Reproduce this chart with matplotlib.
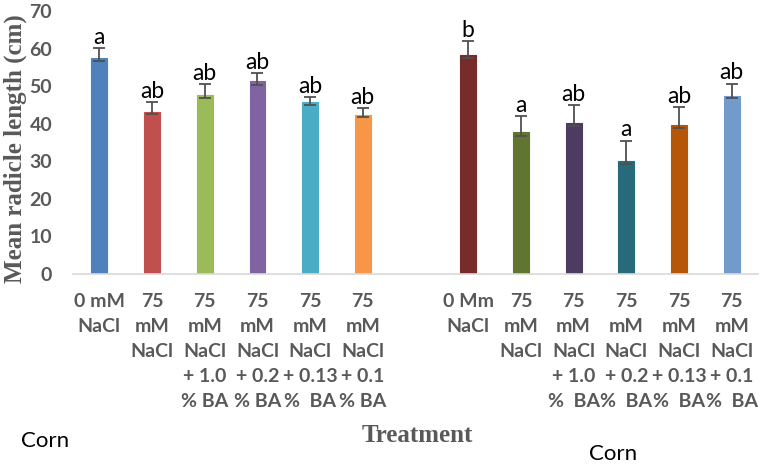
import matplotlib.pyplot as plt
import numpy as np

labels = ['0 mM\nNaCl', '75\nmM\nNaCl', '75\nmM\nNaCl\n+ 1.0\n% BA',
          '75\nmM\nNaCl\n+ 0.2\n% BA', '75\nmM\nNaCl\n+ 0.13\n%  BA',
          '75\nmM\nNaCl\n+ 0.1\n% BA', '',
          '0 Mm\nNaCl', '75\nmM\nNaCl', '75\nmM\nNaCl\n+ 1.0\n%  BA',
          '75\nmM\nNaCl\n+ 0.2\n%  BA', '75\nmM\nNaCl\n+ 0.13\n%  BA',
          '75\nmM\nNaCl\n+ 0.1\n%  BA']
means = [57.4, 43.2, 47.6, 51.4, 45.8, 42.4, np.nan,
         58.2, 37.7, 40.3, 30.1, 39.7, 47.4]
err_up = [2.8, 2.5, 2.9, 2.1, 1.3, 1.8, np.nan,
          3.8, 4.3, 4.6, 5.4, 4.8, 3.3]
err_lo = [0.8, 0.6, 0.8, 1.1, 0.9, 0.7, np.nan,
          0.7, 1.0, 0.9, 0.8, 0.8, 0.4]
letters = ['a', 'ab', 'ab', 'ab', 'ab', 'ab', '',
           'b', 'a', 'ab', 'a', 'ab', 'ab']
colors = ['#4F81BD', '#C0504D', '#9BBB59', '#8064A2', '#4BACC6', '#F79646', 'white',
          '#772C2A', '#5F7530', '#4D3B62', '#276A7C', '#B65708', '#729ACA']

gray = '#595959'
fig = plt.figure(figsize=(7.65, 4.66), dpi=100)
ax = fig.add_axes([0.0954, 0.412, 0.8956, 0.564])

x = np.arange(len(labels))
ax.bar(x, means, width=0.3, color=colors, edgecolor=colors, linewidth=0.8, zorder=2)
ax.errorbar(x, means, yerr=[err_lo, err_up], fmt='none', ecolor='#505050',
            elinewidth=1.3, capsize=4, capthick=1.3, zorder=3)
for xi, m, e, t in zip(x, means, err_up, letters):
    if t:
        ax.text(xi, m + e + 0.1, t, ha='center', va='bottom', fontsize=16.5,
                family='Lato', color='black')

ax.set_xlim(-0.5, len(labels) - 0.5)
ax.set_ylim(0, 70)
ax.set_yticks(np.arange(0, 71, 10))
ax.set_xticks(x)
ax.set_xticklabels(labels)
for s in ['top', 'right', 'left']:
    ax.spines[s].set_visible(False)
ax.spines['bottom'].set_color('#D9D9D9')
ax.spines['bottom'].set_linewidth(1.2)
ax.tick_params(axis='both', length=0, labelsize=14, colors=gray)
ax.tick_params(axis='x', pad=14)
ax.tick_params(axis='y', pad=15)
for lab in ax.get_xticklabels() + ax.get_yticklabels():
    lab.set_fontweight('bold')
    lab.set_family('Lato')
for lab in ax.get_xticklabels():
    lab.set_linespacing(1.57)

fig.text(0.02, 0.68, 'Mean radicle length (cm)', rotation=90, ha='center', va='center',
         fontsize=18, fontweight='bold', family='Liberation Serif', color=gray)
fig.text(0.546, 0.066, 'Treatment', ha='center', va='center',
         fontsize=18, fontweight='bold', family='Liberation Serif', color=gray)
fig.text(0.059, 0.054, 'Corn', ha='center', va='center', fontsize=16, family='Lato')
fig.text(0.802, 0.026, 'Corn', ha='center', va='center', fontsize=16, family='Lato')

plt.savefig('out.png')
